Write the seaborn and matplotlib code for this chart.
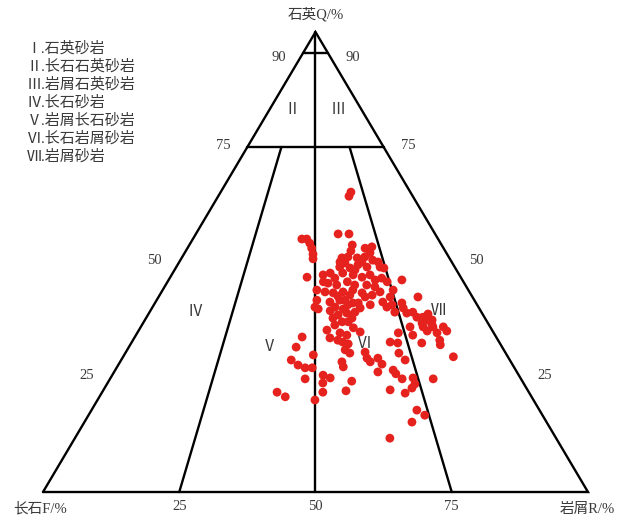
import numpy as np
import pandas as pd
import matplotlib
matplotlib.use("Agg")
import matplotlib.pyplot as plt
import seaborn as sns

# Q (quartz %) and R (rock fragments %) of each sample
q_pct = [64.3, 65.2, 56.1, 56.1, 55.0, 55.0, 54.1, 53.0, 51.7, 50.7, 46.7, 53.7, 52.4, 53.0, 53.3,
         52.0, 51.1, 50.9, 51.1, 50.9, 50.4, 48.9, 49.8, 48.7, 49.4, 48.9, 48.9, 48.7, 47.2, 47.6,
         46.5, 47.6, 47.2, 46.7, 47.2, 46.5, 45.7, 46.1, 45.4, 45.0, 45.7, 45.0, 45.0, 44.6, 43.9,
         43.5, 43.3, 43.5, 42.8, 43.3, 42.8, 43.5, 42.4, 41.3, 41.7, 40.7, 41.1, 40.7, 41.3, 40.7,
         42.4, 40.2, 39.8, 40.2, 39.8, 39.4, 41.1, 40.0, 38.5, 38.9, 37.0, 37.0, 36.3, 35.2, 35.7,
         34.8, 34.6, 34.1, 33.5, 32.6, 32.2, 30.9, 30.2, 28.3, 27.2, 29.1, 28.3, 29.1, 27.8, 26.1,
         32.6, 34.6, 30.2, 26.5, 25.7, 24.6, 25.4, 24.8, 24.1, 29.8, 27.0, 41.1, 40.0, 38.9, 39.1,
         39.1, 38.0, 38.0, 37.4, 38.7, 37.4, 36.7, 35.9, 35.0, 35.9, 35.9, 35.0, 35.9, 34.1, 32.4,
         34.6, 33.0, 32.0, 29.4, 36.5, 30.4, 28.7, 32.4, 24.8, 23.5, 22.6, 24.6, 22.2, 21.5, 17.8,
         15.2, 16.7, 11.7, 33.7, 31.5, 28.7, 27.6, 27.0, 23.7, 24.6, 21.7, 20.7, 21.7, 22.0, 20.0,
         41.7, 50.0, 48.3, 50.0, 42.6, 43.9, 42.4, 46.1, 41.7, 37.8, 37.8, 33.0, 39.1, 45.7, 50.0,
         43.9, 40.2]
r_pct = [24.0, 23.9, 26.1, 28.1, 20.0, 20.9, 21.9, 22.8, 23.7, 24.2, 25.1, 29.9, 30.3, 32.6, 33.7,
         34.0, 33.5, 29.4, 30.4, 32.2, 35.3, 30.0, 30.5, 32.0, 33.1, 35.0, 37.4, 38.2, 27.8, 28.9,
         30.3, 31.2, 33.3, 35.2, 36.4, 38.9, 40.3, 42.8, 29.6, 31.4, 33.0, 34.7, 36.9, 38.6, 28.3,
         30.0, 31.6, 33.3, 34.9, 36.9, 39.0, 40.1, 42.5, 32.0, 33.6, 35.6, 37.3, 39.7, 41.7, 43.7,
         47.6, 29.8, 30.6, 33.5, 35.2, 33.0, 36.3, 38.2, 34.9, 36.3, 36.4, 37.5, 35.4, 34.5, 39.1,
         40.8, 37.2, 38.7, 35.9, 38.7, 39.9, 40.0, 41.2, 40.7, 41.5, 44.9, 45.9, 46.9, 48.3, 48.4,
         47.4, 47.9, 50.2, 51.0, 51.9, 53.6, 38.7, 40.3, 44.6, 34.7, 35.9, 45.3, 46.1, 47.3, 45.0,
         48.3, 49.6, 50.7, 51.8, 51.3, 52.7, 51.2, 51.8, 53.0, 53.6, 55.5, 56.6, 49.4, 50.8, 53.3,
         55.0, 56.3, 56.9, 60.6, 53.1, 43.9, 52.1, 48.9, 55.5, 56.5, 56.4, 59.3, 52.6, 55.7, 59.7,
         60.1, 61.7, 57.8, 30.7, 30.7, 31.2, 33.0, 34.6, 39.5, 35.8, 32.1, 34.1, 40.5, 44.6, 39.9,
         29.4, 29.5, 33.1, 33.5, 32.8, 34.9, 37.9, 37.9, 34.5, 34.3, 37.8, 37.6, 37.7, 28.6, 36.5,
         42.3, 43.0]

edge_ticks = [25, 50, 75]
base_ticks = [25, 50, 75]
legend_lines = ["Ⅰ.石英砂岩", "Ⅱ.长石石英砂岩", "Ⅲ.岩屑石英砂岩", "Ⅳ.长石砂岩",
                "Ⅴ.岩屑长石砂岩", "Ⅵ.长石岩屑砂岩", "Ⅶ.岩屑砂岩"]
q_mid = 75
q_top_drawn = 95.4   # the "90" line sits here in the source drawing

df = pd.DataFrame({"Q": q_pct, "R": r_pct})
df["x"] = df["R"] + df["Q"] / 2

sns.set_style("white")
plt.rcParams["font.family"] = ["Liberation Serif", "Noto Sans CJK SC", "DejaVu Sans"]
txt = "#3a3a3a"

fig = plt.figure(figsize=(6.3, 5.18), dpi=100)
ax = fig.add_axes([0, 0, 1, 1])
ax.set_xlim(-7.89, 107.71)
ax.set_ylim(-5.65, 106.96)
ax.axis("off")

lw = 1.7
# outer triangle
ax.plot([0, 100, 50, 0], [0, 0, 100, 0], color="black", lw=lw, solid_joinstyle="miter")
# Q = 75 and top line
ax.plot([q_mid / 2, 100 - q_mid / 2], [q_mid, q_mid], color="black", lw=lw)
ax.plot([q_top_drawn / 2, 100 - q_top_drawn / 2], [q_top_drawn, q_top_drawn], color="black", lw=lw)
# F:R ratio lines
ax.plot([50, 50], [0, 100], color="black", lw=lw)
for b in [25, 75]:
    top_x = b * (100 - q_mid) / 100 + q_mid / 2
    ax.plot([b, top_x], [0, q_mid], color="black", lw=lw)

sns.scatterplot(data=df, x="x", y="Q", ax=ax, color="#e5221d", s=40,
                edgecolor="none", zorder=3, legend=False)

# edge tick labels
for t in edge_ticks:
    ax.text(t / 2 - 4.5, t + 0.3, str(t), ha="center", va="center", fontsize=10.5, color=txt)
    ax.text(100 - t / 2 + 4.5, t + 0.3, str(t), ha="center", va="center", fontsize=10.5, color=txt)
ax.text(q_top_drawn / 2 - 4.5, 94.5, "90", ha="center", va="center", fontsize=10.5, color=txt)
ax.text(100 - q_top_drawn / 2 + 4.5, 94.5, "90", ha="center", va="center", fontsize=10.5, color=txt)
for t in base_ticks:
    ax.text(t, -3.2, str(t), ha="center", va="center", fontsize=10.5, color=txt)

ax.text(50, 103.9, "石英Q/%", ha="center", va="center", fontsize=10.5, color=txt)
ax.text(-0.5, -3.6, "长石F/%", ha="center", va="center", fontsize=10.5, color=txt)
ax.text(99.8, -3.8, "岩屑R/%", ha="center", va="center", fontsize=10.5, color=txt)

# region labels
regions = [("Ⅱ", 45.7, 83), ("Ⅲ", 54.1, 83), ("Ⅳ", 27.9, 39), ("Ⅴ", 41.6, 31.5),
           ("Ⅵ", 58.9, 32), ("Ⅶ", 72.5, 39.3)]
for lab, x, y in regions:
    ax.text(x, y, lab, ha="center", va="center", fontsize=11, color=txt)

# legend block
for i, line in enumerate(legend_lines):
    ax.text(-3.0, 96.4 - i * 3.9, line, ha="left", va="center", fontsize=10.8, color=txt)

fig.savefig("out.png", dpi=100)
